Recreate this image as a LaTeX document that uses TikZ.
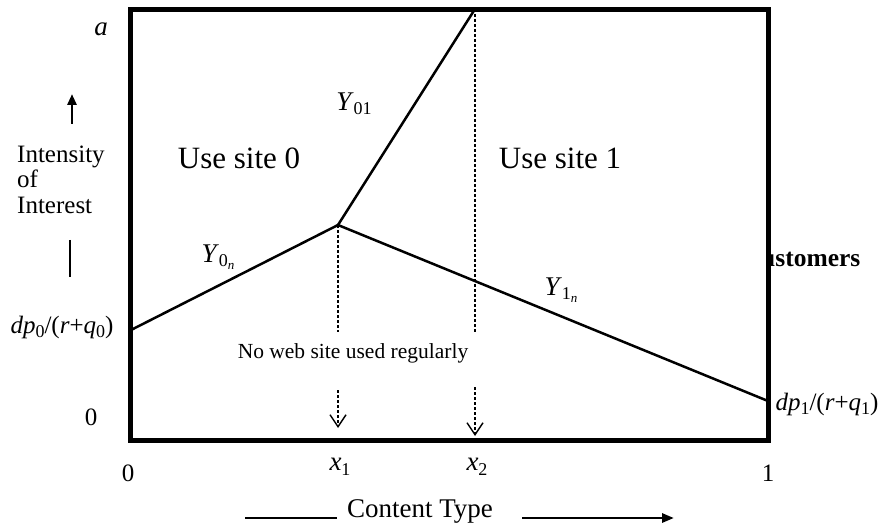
\documentclass[tikz,border=0pt]{standalone}
\usepackage{fontspec}
\setmainfont{Liberation Serif}
\usetikzlibrary{arrows.meta}
\newcommand{\lowsub}[1]{\raisebox{-4.5pt}{\fontsize{18}{18}\selectfont #1}}
\newcommand{\lowsubsub}[1]{\raisebox{-3pt}{\fontsize{13}{13}\selectfont #1}}
\tikzset{
  lbl/.style={inner sep=0pt, font=\fontsize{25}{27}\selectfont},
  mlbl/.style={inner sep=0pt, font=\fontsize{27}{29}\selectfont},
  big/.style={inner sep=0pt, font=\fontsize{31}{33}\selectfont},
  small/.style={inner sep=0pt, font=\fontsize{21.5}{23}\selectfont},
  curve/.style={line width=2.5pt},
  guide/.style={line width=1.5pt, dash pattern=on 3pt off 2pt},
  guidearrow/.style={guide, -{Straight Barb[length=12pt,width=16pt,line width=1.4pt]}},
  solidarrow/.style={line width=2.8pt, -{Triangle[length=12pt,width=9pt]}},
}
\begin{document}
\begin{tikzpicture}[x=1pt,y=-1pt]
\useasboundingbox (0,0) rectangle (883,529);
% text partly behind frame
\node[lbl, anchor=west, font=\fontsize{25.5}{27}\selectfont\bfseries] (cust) at (761,259) {ustomers};
% frame corners
\coordinate (bl) at (130.5,440);
\coordinate (tr) at (768,9.5);
\fill[white] (130.5,9.5) rectangle (768,440);
% key points
\coordinate (p0) at (131,330);
\coordinate (k) at (338,225);
\coordinate (t) at (475,9);
\coordinate (p1) at (768,401);
\coordinate (d1a) at (338,332);
\coordinate (d1b) at (338,390);
\coordinate (d1c) at (338,428);
\coordinate (d2a) at (475,332);
\coordinate (d2b) at (475,387);
\coordinate (d2c) at (475,436);
\draw[curve] (p0) -- (k) -- (p1);
\draw[curve] (k) -- (t);
\draw[guide] (k) -- (d1a);
\draw[guide] (t) -- (d2a);
\draw[guidearrow] (d1b) -- (d1c);
\draw[guidearrow] (d2b) -- (d2c);
\draw[line width=5pt] (bl) rectangle (tr);
% region labels
\node[big] (u0) at (239,158) {Use site 0};
\node[big] (u1) at (560,158) {Use site 1};
\node[mlbl] (y01) at (354,104) {\textit{Y}\lowsub{01}};
\node[mlbl] (y0n) at (218,257) {\textit{Y}\lowsub{0\lowsubsub{\textit{n}}}};
\node[mlbl] (y1n) at (561,290) {\textit{Y}\lowsub{1\lowsubsub{\textit{n}}}};
\node[small] (nw) at (353,353) {No web site used regularly};
% left axis labels
\node[mlbl] (a) at (101,29) {\textit{a}};
\coordinate (ua1) at (72,124);
\coordinate (ua2) at (72,94);
\draw[line width=2.8pt, -{Triangle[length=11pt,width=9pt]}] (ua1) -- (ua2);
\node[lbl, anchor=base west] (int) at (17,163) {Intensity};
\node[lbl, anchor=base west] (of) at (17,188) {of};
\node[lbl, anchor=base west] (inter) at (17,214) {Interest};
\coordinate (vb1) at (70,240);
\coordinate (vb2) at (70,277);
\draw[line width=2.8pt] (vb1) -- (vb2);
\node[lbl] (dp0) at (62,327) {\textit{dp}\lowsub{0}/(\textit{r}+\textit{q}\lowsub{0})};
\node[lbl] (z0) at (91,417) {0};
\node[lbl] (dp1) at (827,404) {\textit{dp}\lowsub{1}/(\textit{r}+\textit{q}\lowsub{1})};
% bottom axis labels
\node[lbl] (b0) at (128,473) {0};
\node[mlbl] (x1) at (340,467) {\textit{x}\lowsub{1}};
\node[mlbl] (x2) at (477,467) {\textit{x}\lowsub{2}};
\node[lbl] (b1) at (768,473) {1};
\node[lbl, font=\fontsize{27}{29}\selectfont] (ct) at (420,511) {Content Type};
\coordinate (cl1) at (245,518);
\coordinate (cl2) at (337,518);
\draw[line width=2.8pt] (cl1) -- (cl2);
\coordinate (cr1) at (522,518);
\coordinate (cr2) at (674,518);
\draw[solidarrow] (cr1) -- (cr2);
\end{tikzpicture}
\end{document}
